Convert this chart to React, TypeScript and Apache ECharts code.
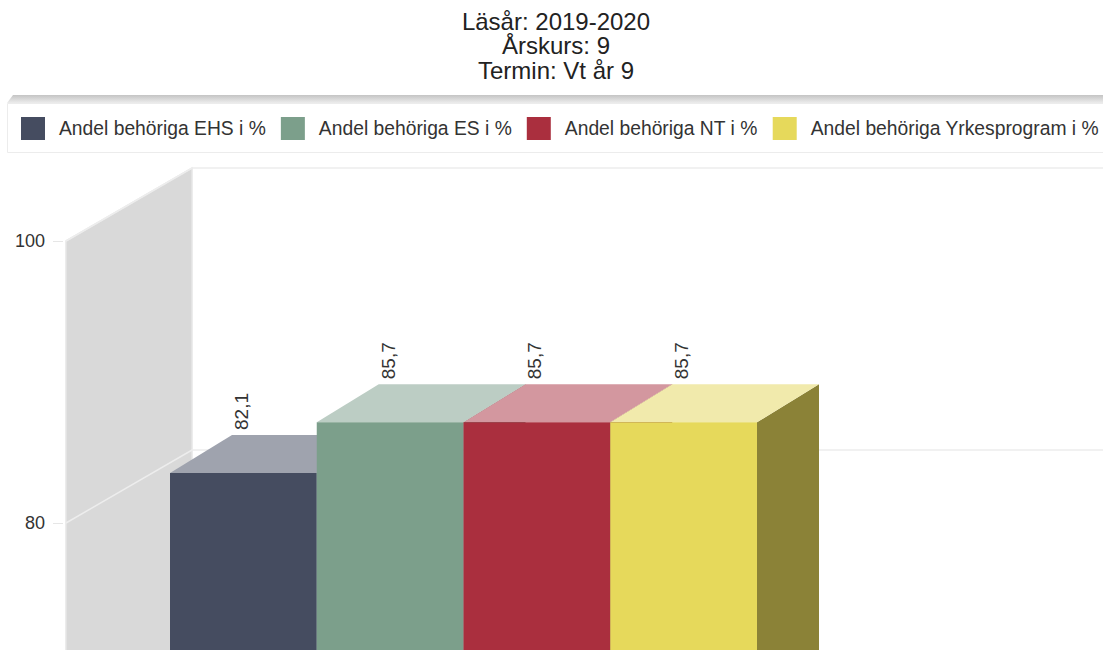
import React, { useEffect, useRef } from "react";
import * as echarts from "echarts";

const titleLines = ["Läsår: 2019-2020", "Årskurs: 9", "Termin: Vt år 9"];
const seriesNames = [
  "Andel behöriga EHS i %",
  "Andel behöriga ES i %",
  "Andel behöriga NT i %",
  "Andel behöriga Yrkesprogram i %",
];
const seriesValues = [82.1, 85.7, 85.7, 85.7];
const valueLabels = ["82,1", "85,7", "85,7", "85,7"];
const frontColors = ["#454c60", "#7c9f8b", "#aa2f3e", "#e6d95b"];
const topColors = ["#9fa3ae", "#bccdc4", "#d3979f", "#f1eaac"];
const sideColors = ["#2f3442", "#56705f", "#74202b", "#8b8237"];
const yTicks = [80, 100];

const FONT = "'Liberation Sans', Arial, sans-serif";
const WALL_DX = 126;
const WALL_DY = 73;
const WALL_LEFT_OFFSET = 70;
const BAR_DX = 34;
const BAR_DY = 20.4;
const DEPTH_DX = 62;
const DEPTH_DY = 38;

export default function App() {
  const ref = useRef<HTMLDivElement>(null);

  useEffect(() => {
    const chart = echarts.init(ref.current!, undefined, { renderer: "svg" });

    const wallSeries = {
      type: "custom",
      name: "walls",
      silent: true,
      z: 1,
      data: [[0, 100]],
      renderItem: (params: any, api: any) => {
        const sys = params.coordSys;
        const x0 = sys.x - WALL_LEFT_OFFSET;
        const x1 = x0 + WALL_DX;
        const yTop = api.coord([0, 100])[1];
        const yBottom = sys.y + sys.height;
        const w = api.getWidth();
        const children: any[] = [
          {
            type: "polygon",
            shape: {
              points: [
                [x0, yTop],
                [x1, yTop - WALL_DY],
                [x1, yBottom - WALL_DY],
                [x0, yBottom],
              ],
            },
            style: { fill: "#d9d9d9", stroke: "#e6e6e6", lineWidth: 1.5 },
          },
        ];
        yTicks.forEach((t) => {
          const y = api.coord([0, t])[1];
          children.push({
            type: "polyline",
            shape: {
              points: [
                [x0, y],
                [x1, y - WALL_DY],
                [w, y - WALL_DY],
              ],
            },
            style: { fill: "none", stroke: "#ededed", lineWidth: 1.5 },
          });
        });
        return { type: "group", children };
      },
    };

    const barSeries = seriesNames.map((name, i) => ({
      type: "custom",
      name,
      z: 2 + i,
      itemStyle: { color: frontColors[i] },
      data: [[i, seriesValues[i]]],
      renderItem: (params: any, api: any) => {
        const band = api.size([1, 0])[0];
        const [cx, cy] = api.coord([api.value(0), api.value(1)]);
        const sys = params.coordSys;
        const l = cx - band / 2 + BAR_DX;
        const r = l + band;
        const t = cy - BAR_DY;
        const b = sys.y + sys.height - BAR_DY;
        return {
          type: "group",
          children: [
            {
              type: "polygon",
              shape: {
                points: [
                  [r, t],
                  [r + DEPTH_DX, t - DEPTH_DY],
                  [r + DEPTH_DX, b - DEPTH_DY],
                  [r, b],
                ],
              },
              style: { fill: sideColors[i] },
            },
            {
              type: "polygon",
              shape: {
                points: [
                  [l, t],
                  [l + DEPTH_DX, t - DEPTH_DY],
                  [r + DEPTH_DX, t - DEPTH_DY],
                  [r, t],
                ],
              },
              style: { fill: topColors[i] },
            },
            {
              type: "rect",
              shape: { x: l, y: t, width: r - l, height: b - t },
              style: { fill: frontColors[i] },
            },
            {
              type: "text",
              x: (l + r) / 2 - 2,
              y: t - DEPTH_DY - 5,
              rotation: Math.PI / 2,
              style: {
                text: valueLabels[i],
                fill: "#333333",
                font: `19px ${FONT}`,
                textAlign: "left",
                textVerticalAlign: "middle",
              },
            },
          ],
        };
      },
    }));

    chart.setOption({
      animation: false,
      backgroundColor: "#ffffff",
      textStyle: { fontFamily: FONT },
      title: {
        text: titleLines.join("\n"),
        left: 556,
        top: 9,
        textAlign: "center",
        padding: 0,
        textStyle: {
          fontFamily: FONT,
          fontSize: 24,
          fontWeight: "normal",
          color: "#222222",
          lineHeight: 24.5,
        },
      },
      legend: {
        data: seriesNames,
        left: 21,
        top: 117,
        padding: 0,
        width: 1400,
        itemWidth: 24,
        itemHeight: 23,
        itemGap: 15,
        icon: "rect",
        selectedMode: false,
        outerBoundsMode: "none",
        textStyle: {
          fontFamily: FONT,
          fontSize: 19.3,
          color: "#333333",
          padding: [4, 0, 0, 9],
        },
      },
      graphic: [
        {
          type: "polygon",
          z: -1,
          silent: true,
          shape: { points: [[7, 103], [13, 95], [1103, 95], [1103, 103]] },
          style: {
            fill: {
              type: "linear", x: 0, y: 0, x2: 0, y2: 1,
              colorStops: [
                { offset: 0, color: "#c4c4c4" },
                { offset: 1, color: "#ececec" },
              ],
            },
          },
        },
        {
          type: "rect",
          z: -1,
          silent: true,
          shape: { x: 7.5, y: 103.5, width: 1110, height: 49 },
          style: { fill: "#ffffff", stroke: "#ececec", lineWidth: 1 },
        },
      ],
      grid: { left: 136, top: 241, width: 587, height: 564, outerBoundsMode: "none" },
      xAxis: { type: "category", data: seriesNames, show: false },
      yAxis: {
        type: "value",
        min: 60,
        max: 100,
        interval: 20,
        offset: 73,
        axisLine: { show: false },
        axisTick: { show: true, length: 10, lineStyle: { color: "#e6e6e6", width: 1 } },
        axisLabel: {
          margin: 18,
          showMinLabel: false,
          fontFamily: FONT,
          fontSize: 18,
          color: "#333333",
        },
        splitLine: { show: false },
      },
      series: [wallSeries, ...barSeries],
    });

    return () => chart.dispose();
  }, []);

  return (
    <div
      ref={ref}
      style={{ position: "absolute", left: 0, top: 0, width: 1103, height: 650 }}
    />
  );
}
